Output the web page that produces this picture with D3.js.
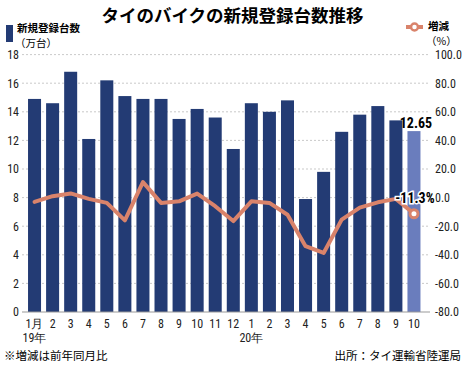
<!DOCTYPE html>
<html>
<head>
<meta charset="utf-8">
<script src="https://cdn.jsdelivr.net/npm/d3@7"></script>
<style>
  body { margin: 0; background: #fff; }
  text { font-family: "Noto Sans CJK JP", "Noto Sans", sans-serif; }
  .num { font-family: "Liberation Sans Narrow", "Roboto Condensed", "Noto Sans", sans-serif; }
</style>
</head>
<body>
<div id="chart"></div>
<script>
const MONTHS = ['1月', '2', '3', '4', '5', '6', '7', '8', '9', '10', '11', '12',
	'1', '2', '3', '4', '5', '6', '7', '8', '9', '10'];
const YEAR_LABELS = [{ index: 0, text: '19年' }, { index: 12, text: '20年' }];

// 新規登録台数（万台）
const REGISTRATIONS = [14.9, 14.6, 16.8, 12.1, 16.2, 15.1, 14.9, 14.9, 13.5, 14.2, 13.6, 11.4,
	14.6, 14.0, 14.8, 7.9, 9.8, 12.6, 13.8, 14.4, 13.4, 12.65];
// 増減（%）
const CHANGE = [-3.0, 1.0, 2.9, -0.9, -3.7, -15.9, 10.8, -3.7, -2.6, 2.8, -6.0, -16.4,
	-2.6, -3.7, -12.0, -34.0, -38.7, -15.4, -7.0, -3.3, -0.9, -11.3];

const LEFT_TICKS = d3.range(0, 19, 2);
const RIGHT_TICKS = d3.range(-80, 101, 20);

const WIDTH = 465;
const HEIGHT = 366;
const PLOT = { TOP: 54.6, BOTTOM: 312, LEFT: 22, RIGHT: 430 };

const BAR_COLOR = '#233b74';
const LAST_BAR_COLOR = '#6a7dbd';
const LINE_COLOR = '#d9836b';

const svg = d3.select('#chart').append('svg')
	.attr('width', WIDTH)
	.attr('height', HEIGHT);

const x = d3.scaleBand()
	.domain(d3.range(MONTHS.length))
	.range([25.5, 423])
	.paddingInner(0.28)
	.paddingOuter(0.14);

const yLeft = d3.scaleLinear().domain([0, 18]).range([PLOT.BOTTOM, PLOT.TOP]);
const yRight = d3.scaleLinear().domain([-80, 100]).range([PLOT.BOTTOM, PLOT.TOP]);

// title
svg.append('text')
	.attr('x', WIDTH / 2)
	.attr('y', 22)
	.attr('text-anchor', 'middle')
	.attr('font-size', 17.5)
	.attr('font-weight', 'bold')
	.text('タイのバイクの新規登録台数推移');

// legend left
svg.append('rect')
	.attr('x', 6).attr('y', 25).attr('width', 7).attr('height', 17)
	.attr('fill', BAR_COLOR);
svg.append('text')
	.attr('x', 17).attr('y', 31.5)
	.attr('font-size', 10.5).attr('font-weight', 'bold')
	.text('新規登録台数');
svg.append('text')
	.attr('x', 15).attr('y', 47)
	.attr('font-size', 10.5)
	.text('（万台）');

// legend right
svg.append('line')
	.attr('x1', 406).attr('x2', 423).attr('y1', 27).attr('y2', 27)
	.attr('stroke', LINE_COLOR).attr('stroke-width', 4);
svg.append('circle')
	.attr('cx', 414.5).attr('cy', 27).attr('r', 3.5)
	.attr('fill', '#fff').attr('stroke', LINE_COLOR).attr('stroke-width', 2.5);
svg.append('text')
	.attr('x', 428).attr('y', 30)
	.attr('font-size', 10.5).attr('font-weight', 'bold')
	.text('増減');
svg.append('text')
	.attr('x', 426).attr('y', 44.5)
	.attr('font-size', 10.5)
	.text('（%）');

// grid
svg.append('g')
	.selectAll('line')
	.data(LEFT_TICKS.filter(d => d > 0))
	.join('line')
		.attr('x1', PLOT.LEFT).attr('x2', PLOT.RIGHT)
		.attr('y1', d => yLeft(d)).attr('y2', d => yLeft(d))
		.attr('stroke', '#bbb')
		.attr('stroke-dasharray', '2,2')
		.attr('stroke-width', 0.8);

// left axis
const leftAxis = svg.append('g')
	.attr('transform', `translate(${PLOT.LEFT}, 0)`)
	.call(d3.axisLeft(yLeft).tickValues(LEFT_TICKS).tickSize(0).tickPadding(3));
leftAxis.select('.domain').remove();
leftAxis.selectAll('text')
	.attr('class', 'num')
	.attr('font-size', 12)
	.attr('fill', '#222');

// right axis
const rightAxis = svg.append('g')
	.attr('transform', `translate(${PLOT.RIGHT}, 0)`)
	.call(d3.axisRight(yRight).tickValues(RIGHT_TICKS).tickSize(0).tickPadding(5)
		.tickFormat(d3.format('.1f')));
rightAxis.select('.domain').remove();
rightAxis.selectAll('text')
	.attr('class', 'num')
	.attr('font-size', 12)
	.attr('fill', '#222')
	.text(d => d3.format('.1f')(d).replace('−', '-'));

// bars
svg.append('g')
	.selectAll('rect')
	.data(REGISTRATIONS)
	.join('rect')
		.attr('x', (d, i) => x(i))
		.attr('y', d => yLeft(d))
		.attr('width', x.bandwidth())
		.attr('height', d => yLeft(0) - yLeft(d))
		.attr('fill', (d, i) => i === REGISTRATIONS.length - 1 ? LAST_BAR_COLOR : BAR_COLOR);

// baseline
svg.append('line')
	.attr('x1', PLOT.LEFT).attr('x2', PLOT.RIGHT)
	.attr('y1', PLOT.BOTTOM).attr('y2', PLOT.BOTTOM)
	.attr('stroke', '#999').attr('stroke-width', 1);

// line
const cx = i => x(i) + x.bandwidth() / 2;
const line = d3.line()
	.x((d, i) => cx(i))
	.y(d => yRight(d));

svg.append('path')
	.datum(CHANGE)
	.attr('d', line)
	.attr('fill', 'none')
	.attr('stroke', LINE_COLOR)
	.attr('stroke-width', 4)
	.attr('stroke-linejoin', 'round')
	.attr('stroke-linecap', 'round');

const last = CHANGE.length - 1;
svg.append('circle')
	.attr('cx', cx(last))
	.attr('cy', yRight(CHANGE[last]))
	.attr('r', 4)
	.attr('fill', '#fff')
	.attr('stroke', LINE_COLOR)
	.attr('stroke-width', 3);

// annotations
svg.append('text')
	.attr('class', 'num')
	.attr('x', cx(last) + 2)
	.attr('y', yLeft(REGISTRATIONS[last]) - 3)
	.attr('text-anchor', 'middle')
	.attr('font-size', 14)
	.attr('font-weight', 'bold')
	.text(REGISTRATIONS[last].toFixed(2));

svg.append('text')
	.attr('class', 'num')
	.attr('x', cx(last) + 1)
	.attr('y', yRight(CHANGE[last]) - 11)
	.attr('text-anchor', 'middle')
	.attr('font-size', 14)
	.attr('font-weight', 'bold')
	.attr('stroke', '#fff')
	.attr('stroke-width', 3)
	.attr('paint-order', 'stroke')
	.text(CHANGE[last].toFixed(1) + '%');

// x labels
svg.append('g')
	.selectAll('text')
	.data(MONTHS)
	.join('text')
		.attr('class', 'num')
		.attr('x', (d, i) => cx(i))
		.attr('y', 328)
		.attr('text-anchor', 'middle')
		.attr('font-size', 12)
		.attr('fill', '#222')
		.text(d => d);

svg.append('g')
	.selectAll('text')
	.data(YEAR_LABELS)
	.join('text')
		.attr('class', 'num')
		.attr('x', d => cx(d.index))
		.attr('y', 342)
		.attr('text-anchor', 'middle')
		.attr('font-size', 12)
		.attr('fill', '#222')
		.text(d => d.text);

// footer
svg.append('text')
	.attr('x', 4).attr('y', 360)
	.attr('font-size', 11.5)
	.text('※増減は前年同月比');
svg.append('text')
	.attr('x', 461).attr('y', 360)
	.attr('text-anchor', 'end')
	.attr('font-size', 11.5)
	.text('出所：タイ運輸省陸運局');
</script>
</body>
</html>
